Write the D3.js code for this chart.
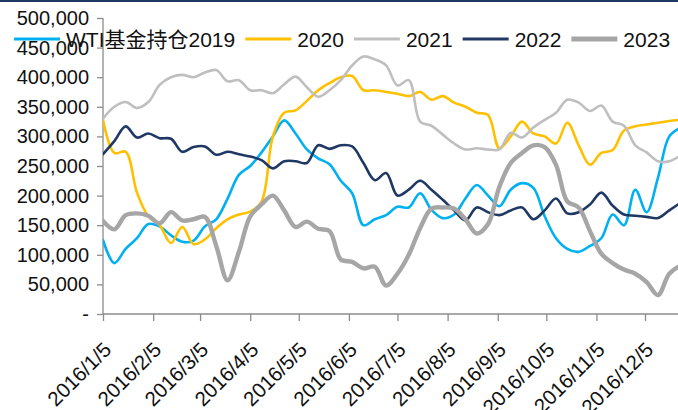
<!DOCTYPE html>
<html>
<head>
<meta charset="utf-8">
<script src="https://cdn.jsdelivr.net/npm/d3@7"></script>
<style>
  body { margin: 0; background: #fff; }
  text { font-family: "Liberation Sans", Arial, "Noto Sans CJK SC", sans-serif; fill: #111; }
  .axis path, .axis line { stroke: #8c8c8c; stroke-width: 1.3; }
</style>
</head>
<body>
<div id="chart"></div>
<script>

// weekly positions, jan 5 onwards
var startDate = new Date(2016, 0, 5);
var weeks = d3.timeDay.range(startDate, new Date(2016, 11, 28), 7);

var tickLabels = ["2016/1/5", "2016/2/5", "2016/3/5", "2016/4/5", "2016/5/5", "2016/6/5",
                  "2016/7/5", "2016/8/5", "2016/9/5", "2016/10/5", "2016/11/5", "2016/12/5"];

var yTicks = [0, 50000, 100000, 150000, 200000, 250000, 300000, 350000, 400000, 450000, 500000];

var seriesNames = ["WTI基金持仓2019", "2020", "2021", "2022", "2023"];

var v2019 = [125000, 86000, 110000, 128000, 152000, 148000, 133000, 122000, 124000, 148000,
             160000, 195000, 235000, 250000, 273000, 300000, 327000, 305000, 278000, 263000,
             253000, 225000, 204000, 150000, 160000, 167000, 181000, 180000, 204000, 176000,
             162000, 168000, 195000, 218000, 200000, 182000, 210000, 221000, 213000, 165000,
             128000, 110000, 105000, 115000, 128000, 168000, 150000, 210000, 172000, 230000,
             300000, 315000];

var v2020 = [328000, 272000, 274000, 205000, 165000, 150000, 120000, 147000, 118000, 126000,
             145000, 160000, 168000, 173000, 190000, 300000, 340000, 344000, 360000, 378000,
             390000, 400000, 402000, 378000, 378000, 375000, 372000, 368000, 375000, 362000,
             368000, 357000, 350000, 340000, 336000, 280000, 300000, 325000, 305000, 300000,
             288000, 323000, 285000, 252000, 272000, 277000, 310000, 317000, 320000, 323000,
             326000, 328000];

var v2021 = [330000, 350000, 358000, 348000, 358000, 387000, 400000, 404000, 400000, 408000,
             412000, 393000, 395000, 378000, 378000, 373000, 388000, 401000, 383000, 367000,
             378000, 395000, 420000, 435000, 430000, 420000, 386000, 395000, 325000, 318000,
             303000, 288000, 278000, 280000, 278000, 278000, 306000, 298000, 315000, 328000,
             340000, 362000, 357000, 343000, 352000, 325000, 318000, 285000, 273000, 258000,
             258000, 268000];

var v2022 = [270000, 292000, 317000, 298000, 305000, 297000, 296000, 274000, 282000, 283000,
             269000, 274000, 270000, 266000, 260000, 246000, 258000, 258000, 255000, 285000,
             279000, 285000, 283000, 255000, 226000, 238000, 200000, 210000, 225000, 210000,
             193000, 175000, 158000, 180000, 172000, 167000, 175000, 180000, 160000, 175000,
             195000, 170000, 172000, 185000, 205000, 183000, 168000, 166000, 164000, 162000,
             175000, 188000];

var v2023 = [157000, 143000, 167000, 170000, 166000, 153000, 172000, 158000, 160000, 164000,
             115000, 57000, 105000, 165000, 185000, 200000, 175000, 147000, 156000, 144000,
             140000, 92000, 88000, 77000, 80000, 48000, 68000, 100000, 145000, 178000,
             180000, 178000, 160000, 136000, 152000, 215000, 255000, 272000, 285000, 282000,
             252000, 190000, 180000, 140000, 102000, 86000, 75000, 68000, 54000, 32000,
             68000, 82000];

function init(){

    var width = 678, height = 410;
    var colors = ["#00b0f0", "#ffc000", "#bfbfbf", "#1f3864", "#a6a6a6"];
    var widths = [2.6, 2.6, 2.6, 2.6, 4.4];
    var allValues = [v2019, v2020, v2021, v2022, v2023];

    var parseTick = d3.timeParse("%Y/%m/%d");
    var tickDates = tickLabels.map(function(s){ return parseTick(s); });

    var svg = d3.select("#chart")
        .append("svg")
        .attr("width", width)
        .attr("height", height);

    // thin bar along the top
    svg.append("rect")
        .attr("x", 0).attr("y", 0)
        .attr("width", width).attr("height", 2)
        .attr("fill", "#1f3864");

    var xScale = d3.scaleTime()
        .domain([tickDates[0], tickDates[tickDates.length - 1]])
        .range([103, 645]);

    var yScale = d3.scaleLinear()
        .domain([0, 500000])
        .range([314, 18]);

    var fmt = d3.format(",");

    // Y axis
    var yAxis = d3.axisLeft(yScale)
        .tickValues(yTicks)
        .tickSize(6)
        .tickPadding(8)
        .tickFormat(function(d){ return d === 0 ? "-" : fmt(d); });

    var gy = svg.append("g")
        .attr("class", "y axis")
        .attr("transform", "translate(103,0)")
        .call(yAxis);
    gy.select(".domain").attr("d", "M0," + yScale(500000) + "V" + yScale(0));
    gy.selectAll("text").style("font-size", "20px");

    // X axis
    var xAxis = d3.axisBottom(xScale)
        .tickValues(tickDates)
        .tickSize(7)
        .tickFormat(function(d, i){ return tickLabels[i]; });

    var gx = svg.append("g")
        .attr("class", "x axis")
        .attr("transform", "translate(0,314)")
        .call(xAxis);
    gx.select(".domain").attr("d", "M103,0H" + width);
    gx.selectAll("text")
        .style("font-size", "20.5px")
        .attr("text-anchor", "end")
        .attr("x", 0).attr("y", 0).attr("dy", 0)
        .attr("transform", "translate(9,37) rotate(-45)");

    // Lines
    var line = d3.line()
        .x(function(d, i){ return xScale(weeks[i]); })
        .y(function(d){ return yScale(d); })
        .curve(d3.curveCatmullRom.alpha(0.5));

    svg.append("defs").append("clipPath")
        .attr("id", "clip")
        .append("rect")
        .attr("x", 103).attr("y", 0)
        .attr("width", width - 103).attr("height", 314);

    svg.append("g")
        .attr("clip-path", "url(#clip)")
        .selectAll("path")
        .data(allValues)
        .enter()
        .append("path")
        .attr("d", line)
        .attr("fill", "none")
        .attr("stroke", function(d, i){ return colors[i]; })
        .attr("stroke-width", function(d, i){ return widths[i]; })
        .attr("stroke-linejoin", "round")
        .attr("stroke-linecap", "round");

    // Legend
    var legend = svg.append("g").attr("class", "legend");
    var lx = 14, ly = 39;
    seriesNames.forEach(function(name, i){
        legend.append("line")
            .attr("x1", lx).attr("x2", lx + 46)
            .attr("y1", ly).attr("y2", ly)
            .attr("stroke", colors[i])
            .attr("stroke-width", widths[i] + 0.6);
        var t = legend.append("text")
            .attr("x", lx + 52)
            .attr("y", ly + 7.5)
            .style("font-size", "21px")
            .text(name);
        lx = lx + 52 + t.node().getComputedTextLength() + 10;
    });
}

window.onload = init;
</script>
</body>
</html>
